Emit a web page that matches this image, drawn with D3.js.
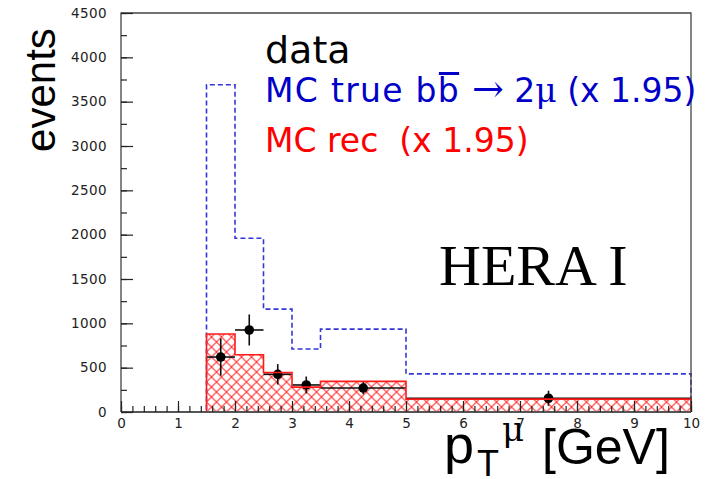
<!DOCTYPE html>
<html>
<head>
<meta charset="utf-8">
<script src="https://cdn.jsdelivr.net/npm/d3@7"></script>
<style>
  html, body { margin: 0; padding: 0; background: #fff; }
  svg { display: block; }
</style>
</head>
<body>
<svg id="chart" width="715" height="479"></svg>
<script>
// Muon transverse momentum spectrum, b-bbar -> 2 muons
const binEdges = [1.5, 2.0, 2.5, 3.0, 3.5, 5.0, 10.0];
const mcTrue   = [3690, 1960, 1160, 710, 935, 430];   // MC true (x 1.95)
const mcRec    = [880, 645, 445, 280, 345, 145];      // MC reconstructed (x 1.95)
const dataX    = [1.75, 2.25, 2.75, 3.25, 4.25, 7.5];
const dataY    = [620, 925, 425, 305, 270, 155];
const dataErr  = [210, 175, 115, 95, 70, 85];
const xTicks   = [0, 1, 2, 3, 4, 5, 6, 7, 8, 9, 10];
const yTicks   = [0, 500, 1000, 1500, 2000, 2500, 3000, 3500, 4000, 4500];

const svg = d3.select("#chart");
const x = d3.scaleLinear().domain([0, 10]).range([121, 691]);
const y = d3.scaleLinear().domain([0, 4500]).range([412, 13]);

// cross-hatch fill for the reconstructed MC histogram
const T = 10;
const defs = svg.append("defs");
const pat = defs.append("pattern")
  .attr("id", "xhatch").attr("patternUnits", "userSpaceOnUse")
  .attr("width", T).attr("height", T).attr("x", x(1.5)).attr("y", y(0));
pat.append("path")
  .attr("d", `M0,0L${T},${T}M${T},0L0,${T}M-1,1L1,-1M${T - 1},${T + 1}L${T + 1},${T - 1}`)
  .attr("stroke", "#ff3030").attr("stroke-width", 1.1).attr("fill", "none");

// step outline of a histogram: from baseline up over each bin and back down
function stepPoints(edges, vals) {
  const pts = [[edges[0], 0]];
  vals.forEach((v, i) => { pts.push([edges[i], v]); pts.push([edges[i + 1], v]); });
  pts.push([edges[edges.length - 1], 0]);
  return pts;
}
const line = d3.line().x(d => x(d[0])).y(d => y(d[1]));

const recPts = stepPoints(binEdges, mcRec);
svg.append("path").attr("d", line(recPts) + "Z")
  .attr("fill", "url(#xhatch)").attr("stroke", "none");

// MC true: dashed blue, running along zero below the first bin
const truePts = [[0, 0]].concat(stepPoints(binEdges, mcTrue));
svg.append("path").attr("d", line(truePts))
  .attr("fill", "none").attr("stroke", "#3535d8")
  .attr("stroke-width", 1.6).attr("stroke-dasharray", "5,3");

// data points with error bars
const pts = svg.append("g");
dataX.forEach((xv, i) => {
  const lo = binEdges[i], hi = binEdges[i + 1];
  pts.append("line").attr("x1", x(lo)).attr("x2", x(hi))
    .attr("y1", y(dataY[i])).attr("y2", y(dataY[i]))
    .attr("stroke", "#111").attr("stroke-width", 1.6);
  pts.append("line").attr("x1", x(xv)).attr("x2", x(xv))
    .attr("y1", y(dataY[i] - dataErr[i])).attr("y2", y(dataY[i] + dataErr[i]))
    .attr("stroke", "#111").attr("stroke-width", 1.6);
  pts.append("circle").attr("cx", x(xv)).attr("cy", y(dataY[i])).attr("r", 4.8)
    .attr("fill", "#000");
});

// red outline on top
svg.append("path").attr("d", line(recPts))
  .attr("fill", "none").attr("stroke", "#ff1a1a").attr("stroke-width", 1.6);

// frame
svg.append("path")
  .attr("d", `M${x(0)},${y(0)}V${y(4500)}H${x(10)}V${y(0)}`)
  .attr("fill", "none").attr("stroke", "#444").attr("stroke-width", 1.3);
svg.append("line").attr("x1", x(0)).attr("x2", x(10)).attr("y1", y(0)).attr("y2", y(0))
  .attr("stroke", "#555").attr("stroke-width", 2);

const tickFont = "DejaVu Sans";
// x axis: minor ticks every 0.2, major at integers, all pointing inward
const minorX = d3.range(0, 10.001, 0.2).map(v => +v.toFixed(1));
svg.append("g").attr("transform", `translate(0,${y(0)})`)
  .call(d3.axisBottom(x).tickValues(minorX).tickSizeInner(-6).tickSizeOuter(0).tickFormat(""))
  .call(g => g.select(".domain").remove())
  .call(g => g.selectAll("line").attr("stroke", "#222").attr("stroke-width", 1.2));
svg.append("g").attr("transform", `translate(0,${y(0)})`)
  .call(d3.axisBottom(x).tickValues(xTicks).tickSizeInner(-11).tickSizeOuter(0).tickPadding(6).tickFormat(d3.format("d")))
  .call(g => g.select(".domain").remove())
  .call(g => g.selectAll("line").attr("stroke", "#222").attr("stroke-width", 1.2))
  .call(g => g.selectAll("text").attr("font-family", tickFont).attr("font-size", 13.5)
    .attr("fill", "#222"));

// y axis
const minorY = d3.range(0, 4501, 250);
svg.append("g").attr("transform", `translate(${x(0)},0)`)
  .call(d3.axisLeft(y).tickValues(minorY).tickSizeInner(-6).tickSizeOuter(0).tickFormat(""))
  .call(g => g.select(".domain").remove())
  .call(g => g.selectAll("line").attr("stroke", "#222").attr("stroke-width", 1.2));
svg.append("g").attr("transform", `translate(${x(0)},0)`)
  .call(d3.axisLeft(y).tickValues(yTicks).tickSizeInner(-12).tickSizeOuter(0).tickPadding(14).tickFormat(d3.format("d")))
  .call(g => g.select(".domain").remove())
  .call(g => g.selectAll("line").attr("stroke", "#222").attr("stroke-width", 1.2))
  .call(g => g.selectAll("text").attr("font-family", tickFont).attr("font-size", 13.5)
    .attr("letter-spacing", 0.4).attr("fill", "#222"));

// axis titles
svg.append("text")
  .attr("transform", "translate(55,90) rotate(-90)")
  .attr("text-anchor", "middle")
  .attr("font-family", "Liberation Sans").attr("font-size", 42).attr("fill", "#000")
  .text("events");

const xt = svg.append("text").attr("font-family", "Liberation Sans").attr("fill", "#000");
xt.append("tspan").attr("x", 444).attr("y", 463).attr("font-size", 54).text("p");
xt.append("tspan").attr("x", 477).attr("y", 476).attr("font-size", 36).text("T");
xt.append("tspan").attr("x", 502).attr("y", 441).attr("font-size", 34)
  .attr("font-family", "DejaVu Serif").text("μ");
xt.append("tspan").attr("x", 542).attr("y", 464).attr("font-size", 50).text("[GeV]");

// legend
const legFont = "DejaVu Sans";
const lx = 265;
svg.append("text").attr("x", lx).attr("y", 63)
  .attr("font-family", legFont).attr("font-size", 38).attr("fill", "#000").text("data");

const mt = svg.append("text").attr("x", lx).attr("y", 102)
  .attr("font-family", legFont).attr("font-size", 33).attr("fill", "#0000c8")
  .attr("xml:space", "preserve").style("white-space", "pre");
mt.append("tspan").attr("letter-spacing", 1.3).text("MC true bb ");
mt.append("tspan").attr("font-family", "DejaVu Serif").attr("font-size", 38).text("→");
mt.append("tspan").text(" 2");
mt.append("tspan").attr("font-family", "DejaVu Serif").text("μ");
mt.append("tspan").text(" (x 1.95)");
// bar over the second b
const mtNode = mt.node();
const bStart = mtNode.getSubStringLength(0, 9);
const bWidth = mtNode.getSubStringLength(9, 1);
svg.append("rect")
  .attr("x", lx + bStart + 1).attr("y", 72)
  .attr("width", bWidth - 2).attr("height", 3)
  .attr("fill", "#0000c8");

svg.append("text").attr("x", lx).attr("y", 152)
  .attr("font-family", legFont).attr("font-size", 33).attr("fill", "#ff0000")
  .attr("xml:space", "preserve").style("white-space", "pre")
  .text("MC rec  (x 1.95)");

svg.append("text").attr("x", 439).attr("y", 285)
  .attr("font-family", "Liberation Serif").attr("font-size", 58).attr("fill", "#000")
  .text("HERA I");
</script>
</body>
</html>
